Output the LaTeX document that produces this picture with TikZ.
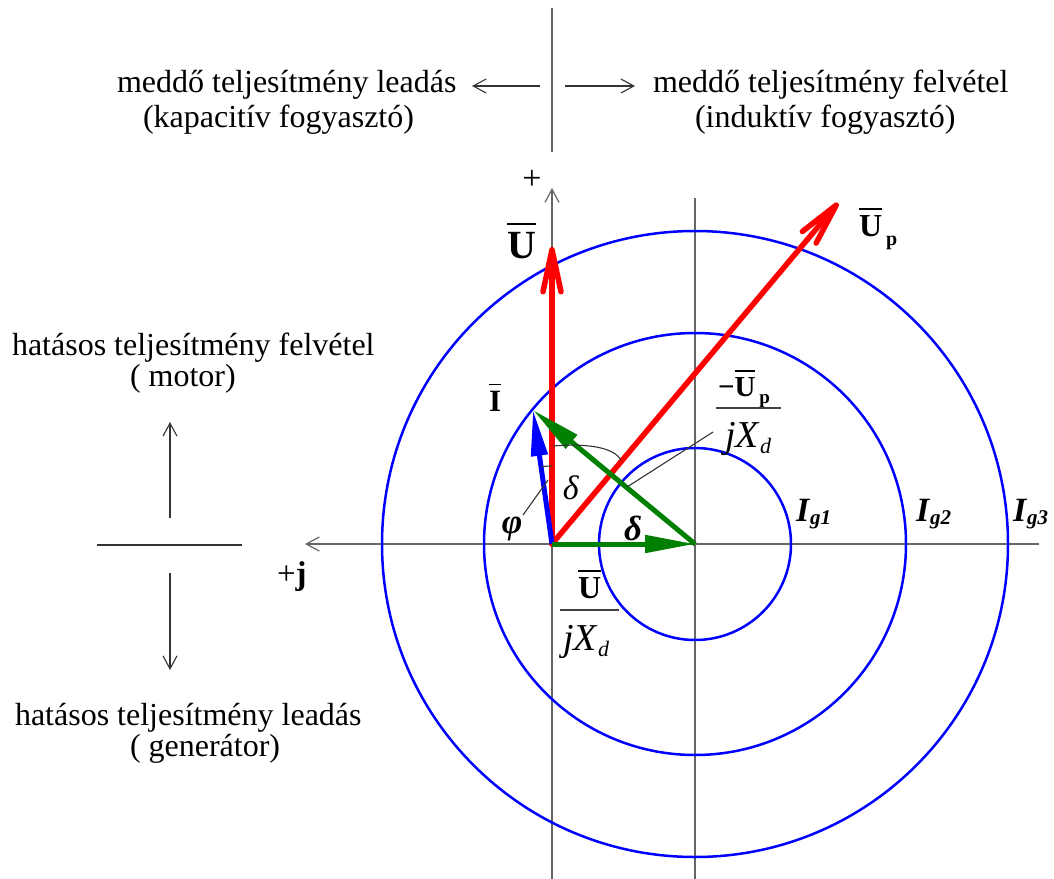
\documentclass[tikz,border=0pt]{standalone}
\usepackage{fontspec}
\setmainfont{Liberation Serif}
\usetikzlibrary{arrows.meta}
\newcommand\myfs[1]{\fontsize{#1bp}{#1bp}\selectfont}
\newcommand\ovl[1]{\vbox{\hrule height 1.8bp\kern0.17em\hbox{#1}}}
\begin{document}
\begin{tikzpicture}[x=1bp,y=-1bp,
  every node/.style={inner sep=0pt, outer sep=0pt},
  axisline/.style={draw=black!60, line width=1.2bp},
  thinline/.style={draw=black!80, line width=1.1bp},
  axarrow/.style={-{Straight Barb[length=13bp,width=14bp]}},
  circ/.style={draw=blue, line width=2.5bp},
  redvec/.style={draw=red, line width=5.5bp, line cap=round, -{Straight Barb[length=42bp,width=18bp,round]}},
  bluevec/.style={draw=blue, line width=5bp, -{Triangle[length=46bp,width=16bp]}},
  greenvec/.style={draw=green!50!black, line width=5bp, -{Triangle[length=50bp,width=17bp]}},
  txt/.style={anchor=base west, font=\myfs{32}},
  fracbar/.style={draw=black!75, line width=1.5bp}]
\useasboundingbox (0,0) rectangle (1054,879);
% key points
\coordinate (O) at (552,544);
\coordinate (C) at (695,544);
\coordinate (Ut) at (552,247);
\coordinate (Upt) at (838,203);
\coordinate (It) at (533,410);
% axes
\coordinate (axR) at (1039,544);
\coordinate (axL) at (305,544);
\coordinate (vB) at (552,879);
\coordinate (vT) at (552,188);
\coordinate (cB) at (695,879);
\coordinate (cT) at (695,198);
\draw[axisline,axarrow] (axR) -- (axL);
\draw[axisline,axarrow] (vB) -- (vT);
\draw[axisline] (cB) -- (cT);
% top separator and arrows
\coordinate (sT) at (552,8);
\coordinate (sB) at (552,152);
\draw[axisline] (sT) -- (sB);
\coordinate (la1) at (540,86);
\coordinate (la2) at (472,86);
\coordinate (ra1) at (565,86);
\coordinate (ra2) at (635,86);
\draw[thinline,axarrow] (la1) -- (la2);
\draw[thinline,axarrow] (ra1) -- (ra2);
% left arrows
\coordinate (ua1) at (170,518);
\coordinate (ua2) at (170,422);
\coordinate (hl1) at (97,545);
\coordinate (hl2) at (242,545);
\coordinate (da1) at (170,573);
\coordinate (da2) at (170,670);
\draw[thinline,axarrow] (ua1) -- (ua2);
\draw[thinline] (hl1) -- (hl2);
\draw[thinline,axarrow] (da1) -- (da2);
% circles
\draw[circ] (C) circle[radius=96];
\draw[circ] (C) circle[radius=211];
\draw[circ] (C) circle[radius=313];
% vectors
\draw[redvec] (O) -- (Ut);
\draw[redvec] (O) -- (Upt);
\draw[bluevec] (O) -- (It);
\draw[greenvec] (O) -- (C);
\draw[greenvec] (C) -- (It);
% angle marks and leaders
\draw[thinline] (O) ++(-90:78) arc[start angle=-90, end angle=-98, radius=78];
\coordinate (da) at (553,446);
\coordinate (db) at (621,460);
\draw[thinline] (da) .. controls (590,443) and (614,448) .. (db);
\coordinate (phA) at (523,515);
\coordinate (phB) at (548,480);
\draw[thinline] (phA) -- (phB);
\coordinate (fA) at (627,487);
\coordinate (fB) at (713,432);
\draw[thinline] (fA) -- (fB);
% texts
\node[txt] (t1) at (117,92) {meddő teljesítmény leadás};
\node[txt] (t2) at (143,127) {(kapacitív fogyasztó)};
\node[txt] (t3) at (653,92) {meddő teljesítmény felvétel};
\node[txt] (t4) at (695,127) {(induktív fogyasztó)};
\node[txt] (t5) at (12,355) {hatásos teljesítmény felvétel};
\node[txt] (t6) at (130,386) {( motor)};
\node[txt] (t7) at (15,725) {hatásos teljesítmény leadás};
\node[txt] (t8) at (130,756) {( generátor)};
% labels
\node[font=\myfs{34}] (plus) at (532,180) {+};
\node[anchor=base west, font=\myfs{33}] (pj) at (277,584) {+\textbf{j}};
\node[anchor=base west, font=\myfs{40}] (lU) at (507,258) {\ovl{\textbf{U}}};
\node[anchor=base west, font=\myfs{32}] (lUp) at (859,236) {\ovl{\textbf{U}}\hspace{4bp}\raisebox{-9bp}{\myfs{20}\textbf{p}}};
\node[anchor=base west, font=\myfs{31}] (lI) at (489,411) {\ovl{\textbf{I}}};
\node[font=\myfs{35}] (lphi) at (512,529) {\textbf{\textit{φ}}};
\node[font=\myfs{34}] (ld1) at (571,488) {\textit{δ}};
\node[font=\myfs{35}] (ld2) at (633,528) {\textbf{\textit{δ}}};
\node[anchor=base west, font=\myfs{34}] (ig1) at (796,521) {\textbf{\textit{I}}\raisebox{-3bp}{\myfs{21}\textbf{\textit{g1}}}};
\node[anchor=base west, font=\myfs{34}] (ig2) at (916,521) {\textbf{\textit{I}}\raisebox{-3bp}{\myfs{21}\textbf{\textit{g2}}}};
\node[anchor=base west, font=\myfs{34}] (ig3) at (1013,521) {\textbf{\textit{I}}\raisebox{-3bp}{\myfs{21}\textbf{\textit{g3}}}};
% fraction 1
\node[anchor=base west, font=\myfs{29}] (fn1) at (718,396) {\textbf{−}\ovl{\textbf{U}}\hspace{4bp}\raisebox{-7bp}{\myfs{19}\textbf{p}}};
\coordinate (b1a) at (716,408);
\coordinate (b1b) at (781,408);
\draw[fracbar] (b1a) -- (b1b);
\node[anchor=base west, font=\myfs{38}] (fd1) at (725,447) {\textit{jX}\raisebox{-6bp}{\myfs{22}\textit{d}}};
% fraction 2
\node[anchor=base west, font=\myfs{32}] (fn2) at (578,598) {\ovl{\textbf{U}}};
\coordinate (b2a) at (560,610);
\coordinate (b2b) at (619,610);
\draw[fracbar] (b2a) -- (b2b);
\node[anchor=base west, font=\myfs{38}] (fd2) at (563,650) {\textit{jX}\raisebox{-6bp}{\myfs{22}\textit{d}}};
\end{tikzpicture}
\end{document}
